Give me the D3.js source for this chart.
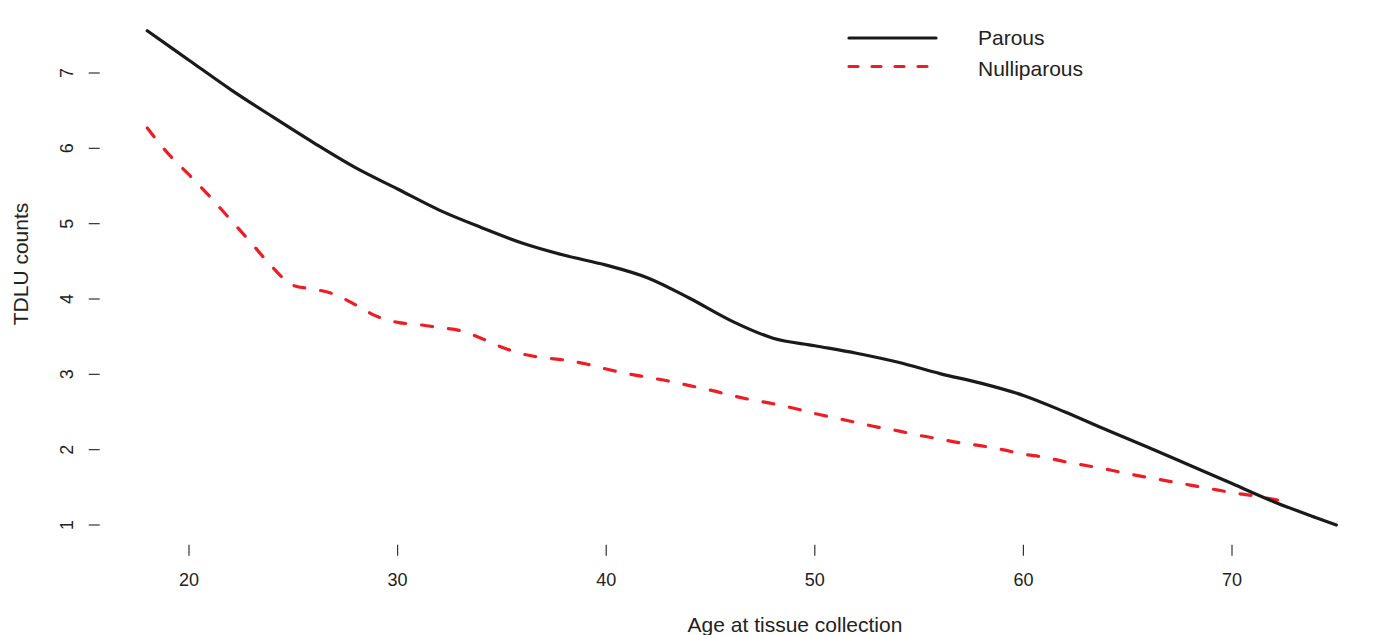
<!DOCTYPE html>
<html>
  <head>
    <title>TDLU counts</title>
    <meta charset="utf-8">
    <script src="https://d3js.org/d3.v7.min.js"></script>
    <style>
      body { margin: 0; background: #fff; }
      text { font-family: "Liberation Sans", Arial, sans-serif; fill: #222; }
    </style>
  </head>
  <body>
  <div id="svgcontainer"></div>
  <script>
    var width = 1376, height = 635;

    // data
    var parousAge = [18,20,22,24,26,28,30,32,34,36,38,40,42,44,46,48,50,52,54,56,58,60,62,64,66,68,70,72,74,75];
    var parousVal = [7.56,7.17,6.78,6.42,6.07,5.74,5.46,5.18,4.95,4.74,4.58,4.45,4.28,4.01,3.71,3.48,3.38,3.28,3.16,3.01,2.88,2.72,2.50,2.26,2.03,1.79,1.55,1.31,1.10,1.00];

    var nulliAge = [18,19,20,21,22,23,24,25,26,27,28,29,30,31,32,33,34,35,36,37,38,39,40,41,42,43,44,45,46,47,48,49,50,51,52,53,54,55,56,57,58,59,60,61,62,63,64,65,66,67,68,69,70,71,72,72.8];
    var nulliVal = [6.27,5.93,5.65,5.36,5.05,4.74,4.42,4.18,4.13,4.06,3.92,3.77,3.69,3.66,3.62,3.58,3.48,3.36,3.27,3.22,3.19,3.14,3.07,3.01,2.96,2.91,2.85,2.79,2.72,2.66,2.61,2.55,2.48,2.42,2.36,2.30,2.25,2.19,2.14,2.09,2.05,2.00,1.94,1.90,1.84,1.79,1.74,1.68,1.63,1.58,1.53,1.48,1.43,1.39,1.34,1.30];

    var xTicks = [20,30,40,50,60,70];
    var yTicks = [1,2,3,4,5,6,7];
    var seriesNames = ['Parous', 'Nulliparous'];

    var svg = d3.select('#svgcontainer')
      .append('svg')
      .attr('width', width)
      .attr('height', height);

    var x = d3.scaleLinear().domain([20, 70]).range([189, 1232]);
    var y = d3.scaleLinear().domain([1, 7]).range([525, 73]);

    var left = x(15.72), right = x(77.28), top = y(7.83), bottom = y(0.737);

    // box
    svg.append('rect')
      .attr('x', left).attr('y', top)
      .attr('width', right - left).attr('height', bottom - top)
      .attr('fill', 'none').attr('stroke', '#555').attr('stroke-width', 1.2);

    // y axis ticks
    var yg = svg.append('g');
    yg.selectAll('line').data(yTicks).enter().append('line')
      .attr('x1', left - 11).attr('x2', left)
      .attr('y1', function(d) { return y(d); }).attr('y2', function(d) { return y(d); })
      .attr('stroke', '#333').attr('stroke-width', 1.2);
    yg.selectAll('text').data(yTicks).enter().append('text')
      .attr('transform', function(d) { return 'translate(73,' + y(d) + ') rotate(-90)'; })
      .attr('text-anchor', 'middle')
      .style('font-size', '18px')
      .text(function(d) { return d; });

    // x axis ticks
    var xg = svg.append('g');
    xg.selectAll('line').data(xTicks).enter().append('line')
      .attr('x1', function(d) { return x(d); }).attr('x2', function(d) { return x(d); })
      .attr('y1', bottom).attr('y2', bottom + 11)
      .attr('stroke', '#333').attr('stroke-width', 1.2);
    xg.selectAll('text').data(xTicks).enter().append('text')
      .attr('x', function(d) { return x(d); }).attr('y', 586)
      .attr('text-anchor', 'middle')
      .style('font-size', '18px')
      .text(function(d) { return d; });

    // axis titles
    svg.append('text')
      .attr('x', 795).attr('y', 632)
      .attr('text-anchor', 'middle')
      .style('font-size', '21px')
      .text('Age at tissue collection');
    svg.append('text')
      .attr('transform', 'translate(28,264) rotate(-90)')
      .attr('text-anchor', 'middle')
      .style('font-size', '21px')
      .text('TDLU counts');

    // curves
    var line = d3.line()
      .x(function(d) { return x(d[0]); })
      .y(function(d) { return y(d[1]); })
      .curve(d3.curveMonotoneX);

    svg.append('path')
      .datum(d3.zip(nulliAge, nulliVal))
      .attr('d', line)
      .attr('fill', 'none')
      .attr('stroke', '#ee1c25')
      .attr('stroke-width', 3.2)
      .attr('stroke-linecap', 'round')
      .attr('stroke-dasharray', '11,16');

    svg.append('path')
      .datum(d3.zip(parousAge, parousVal))
      .attr('d', line)
      .attr('fill', 'none')
      .attr('stroke', '#1a1a1a')
      .attr('stroke-width', 3.2)
      .attr('stroke-linecap', 'round');

    // legend
    var lg = svg.append('g');
    lg.append('line')
      .attr('x1', 849).attr('x2', 936).attr('y1', 38).attr('y2', 38)
      .attr('stroke', '#1a1a1a').attr('stroke-width', 3.2).attr('stroke-linecap', 'round');
    lg.append('line')
      .attr('x1', 849).attr('x2', 927).attr('y1', 66.5).attr('y2', 66.5)
      .attr('stroke', '#ee1c25').attr('stroke-width', 3.2).attr('stroke-linecap', 'round')
      .attr('stroke-dasharray', '9,14');
    lg.selectAll('text').data(seriesNames).enter().append('text')
      .attr('x', 978)
      .attr('y', function(d, i) { return 45 + i * 31; })
      .style('font-size', '21px')
      .text(function(d) { return d; });
  </script>
  </body>
</html>
